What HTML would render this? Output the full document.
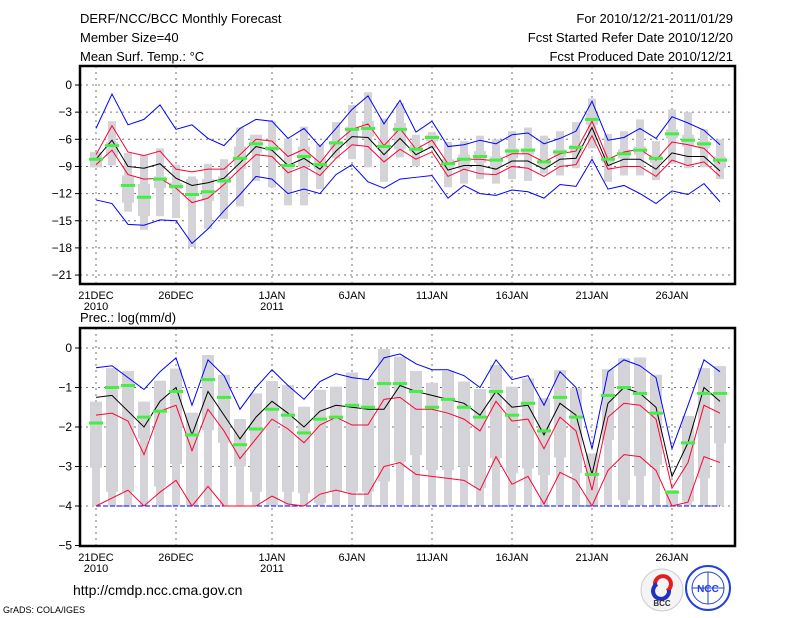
<!DOCTYPE html>
<html><head><meta charset="utf-8"><style>
body{margin:0;background:#fff;}
svg{display:block;font-family:"Liberation Sans",sans-serif;}
</style></head><body>
<svg id="c" width="800" height="618" viewBox="0 0 800 618" xmlns="http://www.w3.org/2000/svg">
<g font-size="13" fill="#000">
<text x="80" y="23">DERF/NCC/BCC Monthly Forecast</text>
<text x="80" y="42">Member Size=40</text>
<text x="80" y="61">Mean Surf. Temp.: °C</text>
<text x="733" y="23" text-anchor="end">For 2010/12/21-2011/01/29</text>
<text x="733" y="42" text-anchor="end">Fcst Started Refer Date 2010/12/20</text>
<text x="733" y="61" text-anchor="end">Fcst Produced Date 2010/12/21</text>
<text x="80" y="322">Prec.: log(mm/d)</text>
<text x="73" y="595" font-size="14">http://cmdp.ncc.cma.gov.cn</text>
<text x="3" y="613" font-size="9">GrADS: COLA/IGES</text>
</g>
<g>
<circle cx="662" cy="590" r="21" fill="#f4f4f4" stroke="#ccc"/>
<path d="M655 585 a8 8 0 1 1 12 6" fill="none" stroke="#e02020" stroke-width="4"/>
<path d="M669 590 a8 8 0 1 1 -12 -6" fill="none" stroke="#2030c0" stroke-width="4"/>
<text x="662" y="606" font-size="8" text-anchor="middle" font-weight="bold" fill="#333">BCC</text>
</g>
<g>
<circle cx="708" cy="588" r="22" fill="#fff" stroke="#2040e0" stroke-width="2"/>
<ellipse cx="708" cy="588" rx="16" ry="16" fill="none" stroke="#2040e0"/>
<line x1="692" y1="588" x2="724" y2="588" stroke="#2040e0"/>
<line x1="708" y1="572" x2="708" y2="604" stroke="#2040e0"/>
<text x="708" y="592" font-size="10" text-anchor="middle" font-weight="bold" fill="#2040e0">NCC</text>
</g>
<g id="top"></g>
<g id="bot"></g>
</svg>
<script>
// ---- temperature data (days 0..39 from 21DEC) ----
const tMean=[-8.2,-6.1,-9.0,-9.2,-8.7,-10.3,-11.1,-10.8,-10.3,-8.6,-6.8,-7.2,-8.9,-8.1,-9.3,-7.3,-5.7,-5.8,-7.7,-5.9,-7.7,-6.8,-9.4,-8.9,-8.9,-9.3,-8.4,-8.4,-9.3,-8.2,-8.1,-4.7,-8.9,-8.2,-8.2,-9.3,-7.5,-7.9,-7.9,-9.5];
const tUp=[-7.7,-4.5,-7.4,-7.8,-7.3,-9.3,-9.6,-9.3,-9.3,-7.7,-6.0,-6.2,-7.9,-7.1,-8.6,-6.4,-4.9,-4.3,-6.7,-4.8,-7.1,-6.1,-8.7,-8.2,-8.2,-8.4,-7.6,-7.6,-8.5,-7.6,-7.3,-4.0,-8.2,-7.4,-7.1,-8.3,-6.3,-6.6,-7.0,-8.7];
const tLo=[-8.8,-7.2,-9.9,-10.4,-10.3,-11.4,-13.0,-12.5,-11.0,-9.3,-7.7,-7.9,-9.7,-9.0,-10.0,-8.1,-6.6,-6.8,-8.5,-7.1,-8.2,-7.4,-10.1,-9.3,-9.8,-9.9,-9.0,-9.2,-10.1,-9.0,-8.8,-5.6,-9.3,-9.0,-9.0,-10.1,-8.3,-8.9,-8.5,-10.1];
const tMax=[-4.8,-1.0,-4.4,-3.8,-2.2,-4.9,-4.4,-5.9,-6.7,-4.8,-3.8,-4.0,-5.9,-4.8,-6.8,-4.8,-2.7,-1.2,-4.3,-1.7,-5.2,-4.0,-6.8,-6.6,-6.1,-6.5,-5.5,-5.3,-6.5,-5.9,-5.1,-1.8,-6.1,-5.8,-4.8,-5.9,-3.5,-4.2,-5.0,-6.6];
const tMin=[-12.7,-13.1,-15.4,-15.5,-14.9,-15.0,-17.5,-15.9,-13.9,-12.1,-10.1,-10.4,-12.0,-11.5,-12.0,-9.9,-8.8,-10.7,-11.4,-10.4,-10.2,-10.0,-12.5,-11.1,-12.0,-12.2,-11.6,-11.8,-12.5,-11.0,-11.2,-8.2,-11.5,-11.1,-12.0,-13.1,-11.7,-12.1,-10.9,-12.9];
const tMed=[-8.2,-6.7,-11.1,-12.4,-10.4,-11.2,-12.1,-11.8,-10.6,-8.1,-6.5,-7.0,-8.9,-7.9,-8.8,-6.4,-4.9,-4.8,-6.8,-4.9,-7.1,-5.8,-8.7,-8.2,-7.9,-8.3,-7.3,-7.2,-8.5,-7.4,-6.9,-3.8,-8.2,-7.6,-7.2,-8.1,-5.4,-6.1,-6.5,-8.3];
const tBoxTop=[-7.4,-4.0,-7.5,-7.8,-7.0,-8.8,-10.1,-8.7,-8.2,-4.7,-5.5,-4.0,-5.9,-4.6,-6.5,-4.1,-2.2,-0.8,-3.7,-2.0,-5.5,-5.2,-6.3,-6.2,-5.6,-6.0,-5.1,-4.7,-5.6,-5.1,-4.1,-1.5,-5.4,-5.1,-3.8,-6.2,-2.7,-3.0,-4.9,-6.0];
const tBoxBot=[-9.1,-8.9,-14.0,-16.0,-14.5,-14.7,-17.9,-15.9,-14.8,-13.4,-10.6,-11.3,-13.3,-13.3,-11.5,-8.1,-8.2,-9.1,-10.7,-8.0,-9.0,-7.0,-11.3,-10.9,-10.4,-10.9,-10.4,-10.6,-9.8,-10.0,-9.2,-7.0,-10.7,-10.0,-10.0,-10.5,-8.7,-9.2,-9.1,-10.4];
const tInTop=[-7.4,-6.3,-10.0,-10.9,-10.1,-10.8,-10.4,-10.4,-10.1,-6.8,-5.5,-6.8,-8.8,-6.8,-8.1,-6.2,-4.6,-4.0,-6.2,-4.2,-6.6,-5.5,-8.2,-7.7,-7.3,-7.9,-7.0,-7.0,-8.1,-7.1,-6.6,-3.1,-7.9,-7.1,-6.8,-7.7,-4.9,-5.5,-6.2,-7.9];
const tInBot=[-9.1,-7.9,-13.0,-14.5,-11.4,-11.5,-12.3,-12.8,-10.8,-9.3,-7.5,-7.3,-9.3,-9.0,-9.3,-7.0,-6.8,-5.7,-7.3,-7.1,-7.5,-6.2,-9.3,-9.3,-8.6,-9.0,-8.1,-7.7,-9.0,-7.9,-7.5,-4.4,-8.6,-8.1,-7.7,-8.6,-5.9,-6.8,-7.0,-9.2];
const tTicks=[0,-3,-6,-9,-12,-15,-18,-21];
// ---- precipitation data ----
const pMean=[-1.25,-1.2,-1.6,-2.0,-1.35,-1.0,-2.2,-1.1,-1.7,-2.3,-1.75,-1.35,-1.65,-2.0,-1.6,-1.45,-1.5,-1.55,-1.55,-0.95,-1.1,-1.2,-1.3,-1.4,-1.7,-1.1,-1.5,-1.45,-2.2,-1.4,-1.7,-3.2,-1.4,-1.0,-1.15,-1.5,-3.25,-2.4,-1.0,-1.35];
const pMax=[-0.5,-0.45,-0.75,-1.05,-0.6,-0.25,-1.45,-0.3,-0.7,-1.55,-1.0,-0.55,-0.95,-1.3,-0.85,-0.65,-0.75,-0.8,-0.25,-0.15,-0.4,-0.55,-0.55,-0.7,-1.0,-0.3,-0.8,-0.7,-1.45,-0.6,-1.0,-2.55,-0.6,-0.3,-0.45,-0.75,-2.55,-1.45,-0.3,-0.6];
const pUp=[-1.7,-1.65,-1.85,-2.7,-1.6,-1.45,-2.6,-1.55,-2.1,-2.8,-2.3,-1.8,-2.05,-2.4,-1.95,-1.75,-1.95,-1.95,-1.3,-1.25,-1.55,-1.55,-1.65,-1.8,-2.1,-1.35,-1.85,-1.8,-2.55,-1.75,-2.1,-3.6,-1.75,-1.4,-1.45,-1.8,-3.55,-2.9,-1.45,-1.65];
const pLo=[-4.0,-3.8,-3.6,-4.0,-3.65,-3.35,-4.0,-3.5,-4.0,-4.0,-4.0,-3.75,-3.95,-4.0,-3.7,-3.6,-3.7,-3.7,-3.0,-2.9,-3.2,-3.25,-3.3,-3.35,-3.6,-2.75,-3.45,-3.25,-3.95,-3.15,-3.35,-4.0,-3.1,-2.7,-2.75,-3.1,-4.0,-3.9,-2.75,-2.9];
const pMin=[-4,-4,-4,-4,-4,-4,-4,-4,-4,-4,-4,-4,-4,-4,-4,-4,-4,-4,-4,-4,-4,-4,-4,-4,-4,-4,-4,-4,-4,-4,-4,-4,-4,-4,-4,-4,-4,-4,-4,-4];
const pMed=[-1.9,-1.0,-0.95,-1.75,-1.6,-1.1,-2.2,-0.8,-1.25,-2.45,-2.05,-1.55,-1.7,-2.15,-1.8,-1.75,-1.45,-1.5,-0.9,-0.9,-1.1,-1.5,-1.3,-1.5,-1.75,-1.1,-1.7,-1.4,-2.1,-1.25,-1.75,-3.2,-1.2,-1.0,-1.15,-1.65,-3.65,-2.4,-1.15,-1.15];
const pBoxTop=[-1.36,-0.51,-0.58,-1.36,-0.83,-0.52,-1.64,-0.18,-0.68,-1.8,-1.15,-0.84,-0.94,-1.49,-1.06,-0.98,-0.62,-0.79,-0.03,-0.22,-0.58,-0.88,-0.58,-0.85,-1.04,-0.43,-0.98,-0.77,-1.27,-0.56,-1.02,-2.67,-0.54,-0.26,-0.24,-0.68,-3.6,-1.72,-0.51,-0.46];
const pInBot=[-3.03,-3.64,-3.64,-2.29,-3.51,-2.94,-4,-2.08,-2.4,-3.0,-3.64,-4,-3.64,-3.68,-3.93,-3.64,-3.64,-3.64,-3.38,-2.88,-2.71,-3.09,-3.09,-3.0,-3.55,-2.79,-3.17,-3.05,-3.22,-2.77,-3.17,-4,-2.33,-3.85,-3.24,-2.96,-4,-3.89,-3.3,-2.41];
const pTicks=[0,-1,-2,-3,-4,-5];
const dateTicks=[0,5,11,16,21,26,31,36];
const dateLabels=["21DEC","26DEC","1JAN","6JAN","11JAN","16JAN","21JAN","26JAN"];
const yearLabels=["2010","","2011","","","","",""];

const NS="http://www.w3.org/2000/svg";
function mk(parent,tag,attrs){const e=document.createElementNS(NS,tag);for(const k in attrs)e.setAttribute(k,attrs[k]);parent.appendChild(e);return e;}
const xS=d=>96+16*d;
const L=80,R=735;

function panel(g,top,bottom,y0px,ppu,ticks,d){
  const yS=v=>y0px-v*ppu;
  // grid
  ticks.forEach(t=>{
    const ln=mk(g,'line',{x1:L,x2:R,y1:yS(t),y2:yS(t),stroke:'#777','stroke-dasharray':'2,4','stroke-width':1});
    
    
    const tk=mk(g,'line',{x1:L-5,x2:L,y1:yS(t),y2:yS(t),stroke:'#000'});
    
    
    const tx=mk(g,'text',{x:L-8,y:yS(t)+4,'text-anchor':'end','font-size':12});
    tx.textContent=t===0?'0':'−'+Math.abs(t);
    
    
  });
  dateTicks.forEach((dd,i)=>{
    const ln=mk(g,'line',{x1:xS(dd),x2:xS(dd),y1:top,y2:bottom,stroke:'#777','stroke-dasharray':'2,4'});
    
    
    const tx=mk(g,'text',{x:xS(dd),y:bottom+15,'text-anchor':'middle','font-size':11});
    tx.textContent=dateLabels[i];
    
    
    if(yearLabels[i]){const ty=mk(g,'text',{x:xS(dd),y:bottom+26,'text-anchor':'middle','font-size':11});
      ty.textContent=yearLabels[i];
      
      }
  });
  // boxes
  for(let i=0;i<d.mean.length;i++){
    const x=xS(i);
    const o=mk(g,'rect',{x:x-4,width:8,y:yS(d.bt[i]),height:Math.max(1,yS(d.bb[i])-yS(d.bt[i])),fill:'#d4d4d8'});
    
    
    const n=mk(g,'rect',{x:x-6,width:12,y:yS(d.it[i]),height:Math.max(1,yS(d.ib[i])-yS(d.it[i])),fill:'#d4d4d8'});
    
    
  }
  const line=(arr,col,name,dash)=>{
    const p=mk(g,'polyline',{points:arr.map((v,i)=>xS(i)+','+yS(v)).join(' '),fill:'none',stroke:col,'stroke-width':1});
    if(dash)p.setAttribute('stroke-dasharray',dash);
    
    
  };
  line(d.max,'#0000ff','max-line',d.maxDash);
  line(d.min,'#0000ff','min-line',d.minDash);
  line(d.up,'#ff0033','upper-spread-line');
  line(d.lo,'#ff0033','lower-spread-line');
  line(d.mean,'#000','ensemble-mean-line');
  for(let i=0;i<d.med.length;i++){
    const m=mk(g,'rect',{x:xS(i)-7,width:14,y:yS(d.med[i])-1.5,height:3,fill:'#44ee44'});
    
    
  }
  const f=mk(g,'path',{d:`M${L} ${top}H${R}V${bottom}H${L}Z`,fill:'none',stroke:'#000','stroke-width':2.5});
  
  
}
panel(document.getElementById('top'),66,284,85,9.05,tTicks,
 {mean:tMean,up:tUp,lo:tLo,max:tMax,min:tMin,med:tMed,bt:tBoxTop,bb:tBoxBot,it:tInTop,ib:tInBot});
panel(document.getElementById('bot'),328,546,348,39.5,pTicks,
 {mean:pMean,up:pUp,lo:pLo,max:pMax,min:pMin,minDash:'5,2',med:pMed,bt:pBoxTop,bb:pMin,it:pBoxTop,ib:pInBot});
</script>
</body></html>
